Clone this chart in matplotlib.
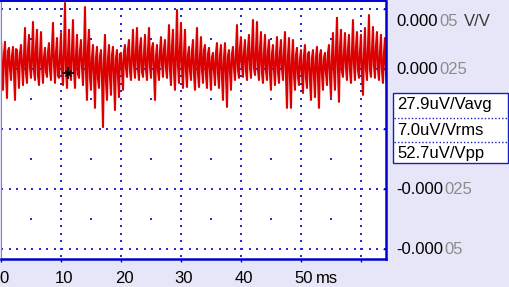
import matplotlib.pyplot as plt
from matplotlib.patches import Rectangle
from matplotlib.lines import Line2D
from matplotlib.transforms import ScaledTranslation
import numpy as np

plt.rcParams['font.family'] = ['Liberation Sans', 'DejaVu Sans']

# trace in uV/V, sampled every 1/6 ms as: peak, mid, trough, mid, peak, ...
peaks = [37.1, 36.3, 33.8, 34.2, 32.9, 35.0, 42.1, 39.2, 44.6, 41.3,
         40.4, 33.8, 35.8, 44.2, 37.9, 40.0, 52.5, 41.3, 45.4, 39.2,
         37.1, 50.8, 41.3, 35.0, 34.2, 32.9, 39.2, 35.0, 34.2, 32.9,
         31.7, 35.0, 37.1, 41.3, 42.1, 37.9, 39.2, 42.1, 35.8, 35.0,
         38.3, 37.1, 43.3, 41.3, 49.6, 44.2, 41.3, 34.2, 37.1, 42.1,
         38.3, 35.0, 33.8, 31.7, 35.8, 35.0, 35.8, 32.9, 34.2, 43.3,
         38.3, 37.1, 39.2, 45.4, 44.6, 40.4, 39.2, 37.1, 35.0, 38.3,
         37.1, 40.4, 37.9, 37.1, 33.8, 32.9, 35.0, 32.1, 32.9, 34.2,
         32.9, 31.7, 35.0, 40.0, 46.3, 41.3, 40.0, 39.2, 45.4, 40.4,
         39.2, 42.1, 47.5, 42.5, 40.4, 39.2, 37.9]
troughs = [16.3, 12.9, 20.4, 12.1, 17.1, 18.3, 19.2, 21.3, 20.4, 18.3,
           19.2, 21.7, 20.4, 19.2, 21.3, 18.3, 17.1, 20.4, 17.1, 21.3,
           18.3, 12.1, 16.3, 8.8, 17.1, 0.8, 12.1, 14.2, 7.9, 13.3,
           16.3, 21.7, 20.4, 21.3, 20.4, 21.7, 20.4, 21.3, 12.1, 20.4,
           21.7, 21.3, 18.3, 16.3, 19.2, 17.1, 17.5, 20.4, 16.3, 17.5,
           19.2, 17.1, 16.3, 18.3, 17.1, 12.1, 9.2, 16.3, 20.4, 21.3,
           21.7, 20.4, 21.3, 22.5, 20.4, 19.2, 20.4, 16.3, 18.3, 19.2,
           20.4, 8.8, 8.8, 16.3, 18.3, 15.0, 17.1, 12.1, 13.3, 8.8,
           16.3, 18.3, 13.3, 16.3, 11.3, 21.7, 20.4, 19.2, 20.4, 21.3,
           14.2, 20.4, 21.7, 21.3, 20.4, 19.2, 18.3]
mids = [24.2, 31.3, 23.8, 32.5, 25.0, 30.4, 22.9, 33.3, 24.6, 31.7,
        26.3, 29.6, 23.3, 32.9, 25.4, 30.8, 24.2, 34.2, 22.5, 31.3,
        25.8, 30.0, 23.8, 32.1, 24.6, 33.8, 26.7, 31.7, 22.1, 30.4,
        24.2, 32.9, 25.4, 31.3, 23.3, 33.3, 24.6, 30.8, 22.9, 32.5,
        25.8, 31.7, 23.8, 34.2, 21.7, 30.0, 22.5, 29.6, 20.8, 30.4,
        21.3, 28.8, 19.6, 29.2, 21.7, 30.8, 20.4, 29.6, 22.1, 31.3,
        24.6, 32.1, 25.4, 33.3, 24.2, 31.7, 26.3, 32.9, 25.0, 34.2,
        23.8, 31.3, 24.6, 32.5, 25.8, 33.8, 23.3, 30.4, 24.2, 32.1,
        26.7, 33.3, 25.4, 31.7, 24.6, 34.6, 23.8, 32.9, 26.3, 33.8,
        25.0, 31.3, 23.8, 30.8, 24.2, 32.5, 22.9, 31.7, 23.3, 30.4,
        24.6, 32.9, 22.5, 31.3, 23.8, 30.0, 24.2, 31.7, 22.9, 30.8,
        21.7, 29.6, 22.5, 30.4, 23.8, 31.3, 25.0, 32.5, 24.6, 33.8,
        25.8, 32.1, 24.2, 33.3, 26.3, 34.2, 25.4, 32.9, 24.6, 33.8,
        23.3, 31.7, 24.2, 32.5, 22.9, 31.3, 24.6, 30.8, 23.8, 32.1,
        25.0, 31.7, 22.1, 30.4, 21.3, 29.6, 22.5, 30.8, 21.7, 29.2,
        22.9, 30.4, 21.3, 31.3, 20.8, 29.6, 22.1, 30.0, 21.7, 30.8,
        22.5, 29.6, 23.3, 31.7, 21.7, 30.4, 24.2, 32.9, 25.0, 33.8,
        23.8, 32.1, 25.4, 33.3, 24.2, 31.7, 26.3, 34.2, 24.6, 32.5,
        23.3, 31.3, 25.0, 33.3, 24.6, 32.9, 26.3, 34.6, 25.0, 32.1,
        24.2, 31.7, 23.8, 30.8]
dt_ms = 1 / 6

cursor_t = 11.2
cursor_v = 23.3

x_ticks = [0, 10, 20, 30, 40, 50, 60]
x_labels = ['0', '10', '20', '30', '40', '50', '']
y_ticks = [50, 25, 0, -25, -50]
y_lead = ['0.000', '0.000', '', '-0.000', '-0.000']
y_tail = ['05', '025', '', '025', '05']
stats = ['27.9uV/Vavg', '7.0uV/Vrms', '52.7uV/Vpp']

blue = '#0000d0'
dot_blue = '#2a2ad8'
fs = 12
W, H = 509, 287

fig = plt.figure(figsize=(W / 100, H / 100), dpi=100, facecolor='#e6e6f8')
ax = fig.add_axes([1 / W, 28 / H, 385 / W, 258 / H])
ax.set_facecolor('white')
ax.set_xlim(0, 64.17)
ax.set_ylim(-54.17, 53.33)

# graticule dots
for gx in x_ticks[1:]:
    ys = np.arange(-17, 18) * 3.125
    ax.scatter(np.full(len(ys), gx), ys, s=1.0, marker='s', c=dot_blue, linewidths=0, zorder=1)
for gy in y_ticks:
    xs = np.arange(0, 52) * 1.25 + 0.2
    ax.scatter(xs, np.full(len(xs), gy), s=1.0, marker='s', c=dot_blue, linewidths=0, zorder=1)
hx, hy = np.meshgrid(np.arange(5, 60, 10), [37.5, 12.5, -12.5, -37.5])
ax.scatter(hx.ravel(), hy.ravel(), s=1.0, marker='s', c=dot_blue, linewidths=0, zorder=1)

signal = []
for k in range(len(peaks)):
    signal += [peaks[k], mids[2 * k], troughs[k], mids[2 * k + 1]]
t = np.arange(len(signal)) * dt_ms
ax.plot(t, signal, color='#dd0000', lw=1.5, zorder=2)

ax.plot([cursor_t], [cursor_v], marker='+', ms=9, mew=1.2, color='black', zorder=3)
ax.plot([cursor_t], [cursor_v], marker='x', ms=5, mew=1.0, color='black', zorder=3)

for side in ['top', 'bottom', 'right']:
    ax.spines[side].set_color(blue)
    ax.spines[side].set_linewidth(1.8)
ax.spines['top'].set_linewidth(1.4)
ax.spines['left'].set_color('#8080e8')
ax.spines['left'].set_linewidth(0.8)

ax.set_xticks(x_ticks)
ax.set_xticklabels(x_labels)
ax.tick_params(axis='x', direction='out', length=2.5, width=1, color=blue,
               labelsize=fs, pad=4, labelcolor='black')
shift = ScaledTranslation(3 / 100, -3 / 100, fig.dpi_scale_trans)
for lab in ax.get_xticklabels():
    lab.set_transform(lab.get_transform() + shift)
ax.set_yticks(y_ticks)
ax.yaxis.set_ticks_position('right')
ax.tick_params(axis='y', direction='in', length=2.5, width=1, color=blue,
               labelright=False, labelleft=False)

ax.annotate('ms', xy=(50, 0), xycoords=ax.get_xaxis_transform(),
            xytext=(10.4, -17.5), textcoords='offset points',
            fontsize=fs, ha='left', va='baseline')

# right side value labels (offsets in points from the right spine)
ytr = ax.get_yaxis_transform()
for v, lead, tail in zip(y_ticks, y_lead, y_tail):
    if not lead:
        continue
    dy = -8.9 if v == 50 else -0.5
    tail_x = 42.0 if lead.startswith('-') else 38.4
    ax.annotate(lead, xy=(1, v), xycoords=ytr, xytext=(7.2, dy),
                textcoords='offset points', fontsize=fs, va='center', ha='left')
    ax.annotate(tail, xy=(1, v), xycoords=ytr, xytext=(tail_x, dy),
                textcoords='offset points', fontsize=fs, va='center', ha='left',
                color='#8c8c8c')
    if v == 50:
        ax.annotate('V/V', xy=(1, v), xycoords=ytr, xytext=(56.0, dy),
                    textcoords='offset points', fontsize=fs, va='center', ha='left',
                    color='#3a3a3a')

# measurement box
def fx(x):
    return x / W

def fy(y):
    return 1 - y / H

fig.add_artist(Rectangle((fx(393), fy(163)), 115 / W, 70 / H, transform=fig.transFigure,
                         facecolor='white', edgecolor='#1c1cb8', lw=1.0))
for yy in [117.5, 142]:
    fig.add_artist(Line2D([fx(394), fx(507)], [fy(yy), fy(yy)], transform=fig.transFigure,
                          color='#1c1cb8', lw=1.0, ls=(0, (1, 1.5))))
for yy, s in zip([105, 130, 153.5], stats):
    fig.text(fx(397), fy(yy), s, fontsize=fs, va='center', ha='left')

plt.savefig('out.png', dpi=100, facecolor=fig.get_facecolor())
